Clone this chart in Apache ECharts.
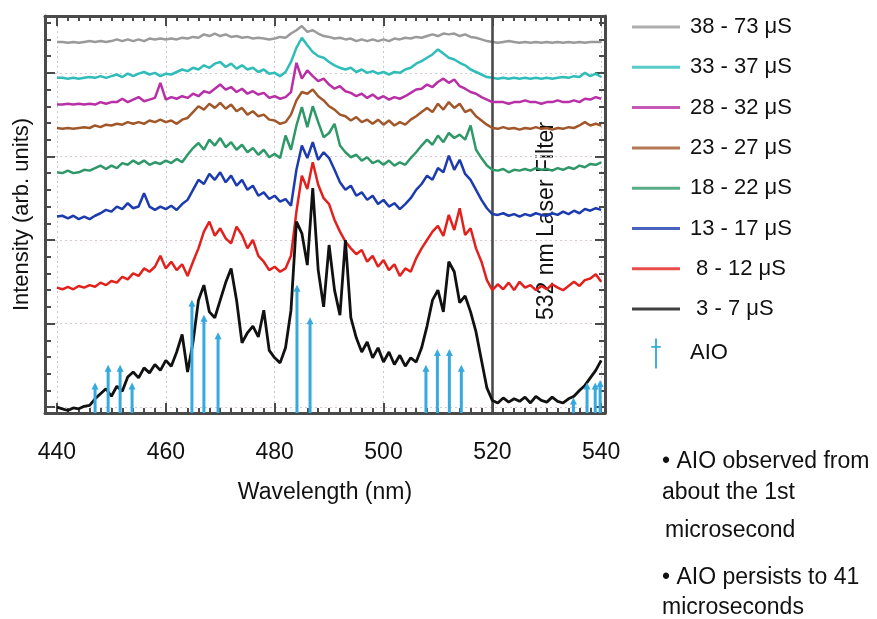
<!DOCTYPE html>
<html>
<head>
<meta charset="utf-8">
<script src="https://cdn.jsdelivr.net/npm/echarts@6/dist/echarts.min.js"></script>
<style>html,body{margin:0;padding:0;background:#fff}#c{width:877px;height:619px}</style>
</head>
<body>
<div id="c"></div>
<script>
// ---------- data ----------
const WAVELENGTH = [440,441,442,443,444,445,446,447,448,449,450,451,452,453,454,455,456,457,458,459,460,461,462,463,464,465,466,467,468,469,470,471,472,473,474,475,476,477,478,479,480,481,482,483,484,485,486,487,488,489,490,491,492,493,494,495,496,497,498,499,500,501,502,503,504,505,506,507,508,509,510,511,512,513,514,515,516,517,518,519,520,521,522,523,524,525,526,527,528,529,530,531,532,533,534,535,536,537,538,539,540];

const S_38_73 = [4.37,4.37,4.36,4.37,4.36,4.37,4.38,4.37,4.38,4.37,4.38,4.40,4.38,4.40,4.38,4.40,4.38,4.41,4.40,4.41,4.40,4.41,4.40,4.42,4.41,4.43,4.42,4.46,4.44,4.47,4.44,4.46,4.43,4.44,4.42,4.43,4.41,4.42,4.41,4.40,4.41,4.43,4.42,4.47,4.51,4.56,4.49,4.51,4.47,4.44,4.43,4.41,4.42,4.40,4.41,4.38,4.40,4.38,4.40,4.38,4.40,4.38,4.41,4.40,4.42,4.41,4.43,4.42,4.44,4.46,4.44,4.47,4.46,4.47,4.44,4.46,4.43,4.42,4.40,4.38,4.37,4.36,4.37,4.38,4.37,4.36,4.37,4.36,4.37,4.36,4.37,4.36,4.37,4.36,4.37,4.36,4.37,4.36,4.37,4.37,4.37];
const S_33_37 = [3.94,3.94,3.93,3.94,3.93,3.94,3.95,3.94,3.96,3.94,3.96,3.98,3.95,3.99,3.96,3.99,4.01,3.98,4.00,3.96,3.99,3.98,4.01,4.04,4.02,4.06,4.04,4.09,4.06,4.11,4.13,4.07,4.11,4.05,4.09,4.04,4.06,4.01,4.04,3.99,4.00,3.96,4.01,4.13,4.30,4.42,4.33,4.25,4.20,4.18,4.13,4.09,4.06,4.04,4.06,4.01,4.04,4.00,4.02,3.99,4.01,3.98,4.01,4.00,4.04,4.06,4.11,4.14,4.18,4.22,4.28,4.23,4.18,4.16,4.12,4.09,4.04,4.01,3.98,3.95,3.94,3.93,3.94,3.93,3.94,3.93,3.94,3.93,3.94,3.93,3.94,3.93,3.94,3.95,3.94,3.96,3.95,4.00,3.96,3.99,3.95];
const S_28_32 = [3.62,3.62,3.63,3.62,3.63,3.62,3.63,3.62,3.65,3.63,3.65,3.65,3.69,3.65,3.68,3.71,3.66,3.68,3.70,3.88,3.68,3.71,3.69,3.72,3.70,3.75,3.72,3.78,3.76,3.81,3.86,3.80,3.83,3.77,3.81,3.75,3.78,3.74,3.76,3.70,3.72,3.69,3.71,3.77,4.12,3.93,4.03,3.96,3.90,3.93,3.86,3.81,3.84,3.78,3.76,3.72,3.75,3.70,3.74,3.69,3.72,3.68,3.71,3.69,3.72,3.76,3.80,3.81,3.86,3.83,3.89,3.93,3.88,3.92,3.84,3.81,3.77,3.75,3.71,3.68,3.65,3.65,3.65,3.63,3.65,3.65,3.67,3.65,3.65,3.63,3.65,3.65,3.67,3.65,3.65,3.67,3.65,3.69,3.68,3.71,3.69];
const S_23_27 = [3.34,3.33,3.34,3.33,3.34,3.35,3.34,3.37,3.35,3.38,3.37,3.39,3.38,3.41,3.39,3.41,3.39,3.43,3.41,3.44,3.41,3.43,3.39,3.44,3.46,3.53,3.60,3.56,3.63,3.58,3.64,3.57,3.62,3.54,3.58,3.50,3.54,3.48,3.50,3.44,3.43,3.39,3.41,3.50,3.67,3.77,3.75,3.80,3.72,3.67,3.60,3.56,3.50,3.48,3.43,3.47,3.41,3.44,3.39,3.44,3.38,3.43,3.37,3.41,3.38,3.44,3.48,3.53,3.58,3.53,3.63,3.56,3.65,3.58,3.63,3.53,3.56,3.48,3.43,3.38,3.34,3.33,3.35,3.33,3.34,3.32,3.34,3.33,3.35,3.33,3.34,3.32,3.34,3.33,3.35,3.34,3.37,3.41,3.37,3.39,3.37];
const S_18_22 = [2.81,2.80,2.83,2.80,2.81,2.84,2.83,2.86,2.89,2.85,2.89,2.86,2.92,2.90,2.95,2.91,2.95,2.90,2.93,2.91,2.95,2.92,2.97,2.93,3.02,3.10,3.16,3.08,3.20,3.13,3.22,3.11,3.17,3.08,3.14,3.05,3.10,3.02,3.08,2.99,3.03,2.98,3.25,3.08,3.37,3.59,3.35,3.60,3.41,3.23,3.28,3.39,3.13,3.05,2.99,3.02,2.95,2.99,2.92,2.95,2.90,2.95,2.89,2.93,2.90,2.98,3.05,3.13,3.20,3.14,3.25,3.17,3.28,3.22,3.26,3.20,3.37,3.08,2.98,2.89,2.84,2.83,2.85,2.81,2.84,2.83,2.85,2.83,2.86,2.84,2.85,2.83,2.86,2.84,2.87,2.85,2.89,2.87,2.91,2.90,2.93];
const S_13_17 = [2.28,2.29,2.26,2.29,2.25,2.28,2.25,2.29,2.32,2.36,2.34,2.40,2.37,2.44,2.38,2.40,2.56,2.40,2.36,2.40,2.37,2.41,2.36,2.43,2.48,2.60,2.72,2.67,2.79,2.72,2.81,2.69,2.77,2.65,2.72,2.60,2.65,2.53,2.57,2.49,2.53,2.46,2.49,2.41,2.84,3.13,2.98,3.17,2.96,3.05,2.98,2.84,2.69,2.60,2.65,2.53,2.57,2.48,2.53,2.43,2.48,2.40,2.44,2.37,2.43,2.50,2.60,2.67,2.77,2.72,2.86,2.81,3.01,2.84,2.96,2.79,2.72,2.60,2.48,2.38,2.31,2.30,2.32,2.29,2.31,2.28,2.31,2.29,2.32,2.30,2.29,2.32,2.30,2.34,2.31,2.35,2.32,2.37,2.35,2.38,2.36];
const S_8_12 = [1.43,1.41,1.44,1.41,1.45,1.43,1.46,1.44,1.49,1.46,1.51,1.49,1.56,1.53,1.60,1.57,1.66,1.62,1.68,1.81,1.66,1.74,1.64,1.71,1.57,1.74,1.90,2.10,2.22,2.05,2.14,2.02,1.96,2.16,2.06,1.90,2.00,1.81,1.74,1.64,1.68,1.62,1.66,1.81,2.34,2.77,2.61,2.93,2.66,2.50,2.43,2.24,2.10,1.98,1.90,1.83,1.88,1.74,1.81,1.68,1.76,1.64,1.71,1.57,1.66,1.62,1.78,1.90,2.00,2.10,2.17,2.05,2.30,2.12,2.38,2.06,2.14,1.90,1.74,1.52,1.40,1.47,1.41,1.49,1.40,1.50,1.43,1.46,1.40,1.45,1.41,1.47,1.43,1.40,1.45,1.50,1.45,1.52,1.54,1.59,1.50];
const S_3_7 = [0.00,-0.02,-0.04,-0.01,-0.02,0.01,0.02,0.10,0.16,0.22,0.13,0.25,0.19,0.36,0.42,0.35,0.47,0.41,0.51,0.44,0.56,0.49,0.66,0.87,0.42,0.78,1.28,1.46,1.14,1.07,1.28,1.49,1.66,1.28,0.77,0.89,0.97,0.84,1.16,0.68,0.59,0.53,0.71,1.16,2.22,2.08,1.70,2.62,1.64,1.20,1.94,1.40,1.10,2.00,1.07,0.83,0.66,0.78,0.59,0.71,0.54,0.66,0.51,0.62,0.49,0.59,0.54,0.71,0.97,1.28,1.40,1.14,1.74,1.62,1.25,1.33,1.14,0.90,0.56,0.23,0.08,0.05,0.11,0.06,0.10,0.07,0.12,0.05,0.13,0.08,0.06,0.12,0.07,0.05,0.10,0.13,0.20,0.26,0.35,0.44,0.56];

// AlO band positions (nm) and marker heights
const AIO_NM = [447.0,449.4,451.6,453.8,464.8,467.0,469.6,484.1,486.5,507.8,509.9,512.1,514.3,534.9,537.4,538.9,539.8];
const AIO_H  = [0.26,0.47,0.47,0.26,1.25,1.07,0.86,1.43,1.04,0.47,0.66,0.66,0.47,0.08,0.26,0.26,0.29];

const SERIES_NAMES = ['38 - 73 μS','33 - 37 μS','28 - 32 μS','23 - 27 μS','18 - 22 μS','13 - 17 μS',' 8 - 12 μS',' 3 - 7 μS'];
const SERIES_VALUES = [S_38_73,S_33_37,S_28_32,S_23_27,S_18_22,S_13_17,S_8_12,S_3_7];
const SERIES_COLORS = ['#9a9a9a','#2ebdb9','#b82fa6','#a2572a','#2f9868','#1c3bae','#e3201c','#111111'];

const X_TICKS = [440,460,480,500,520,540];
const X_MINOR = [438,440,442,444,446,448,450,452,454,456,458,460,462,464,466,468,470,472,474,476,478,480,482,484,486,488,490,492,494,496,498,500,502,504,506,508,510,512,514,516,518,520,522,524,526,528,530,532,534,536,538,540];
const Y_TICKS = [0,1,2,3,4];
const Y_MINOR = [0,0.2,0.4,0.6,0.8,1,1.2,1.4,1.6,1.8,2,2.2,2.4,2.6,2.8,3,3.2,3.4,3.6,3.8,4,4.2,4.4,4.6];
const FILTER_NM = 520;

// ---------- chart ----------
const XMIN = 437.8, XMAX = 540.7, YMIN = -0.07, YMAX = 4.68;
const FONT = 'Liberation Sans, Arial, sans-serif';
const FRAME = '#4a4a4a';
const AIO_COLOR = '#36a9de';
const chart = echarts.init(document.getElementById('c'), null, {renderer: 'canvas'});

function xAx(pos, ticks, len, main) {
  return {
    type: 'value', position: pos, min: XMIN, max: XMAX, gridIndex: 0,
    axisLine: {show: main, onZero: false, lineStyle: {color: FRAME, width: 3}},
    axisTick: {show: true, inside: true, length: len, customValues: ticks, lineStyle: {color: FRAME, width: 2}},
    axisLabel: (main && pos === 'bottom') ? {show: true, customValues: X_TICKS, fontSize: 23, color: '#111', fontFamily: FONT, margin: 28} : {show: false},
    splitLine: (main && pos === 'bottom') ? {show: true, lineStyle: {color: '#c9c6d6', type: [2, 3], width: 1}} : {show: false},
    name: (main && pos === 'bottom') ? 'Wavelength (nm)' : '',
    nameLocation: 'middle', nameGap: 68,
    nameTextStyle: {fontSize: 23, color: '#111', fontFamily: FONT}
  };
}
function yAx(pos, ticks, len, main) {
  return {
    type: 'value', position: pos, min: YMIN, max: YMAX, gridIndex: 0,
    axisLine: {show: main, onZero: false, lineStyle: {color: FRAME, width: 3}},
    axisTick: {show: true, inside: true, length: len, customValues: ticks, lineStyle: {color: FRAME, width: 2}},
    axisLabel: {show: false},
    splitLine: (main && pos === 'left') ? {show: true, lineStyle: {color: '#d6c9d2', type: [2, 3], width: 1}} : {show: false},
    name: (main && pos === 'left') ? 'Intensity (arb. units)' : '',
    nameLocation: 'middle', nameGap: 12,
    nameTextStyle: {fontSize: 22, color: '#111', fontFamily: FONT}
  };
}

const lineSeries = SERIES_NAMES.map((n, i) => ({
  type: 'line', name: n, xAxisIndex: 0, yAxisIndex: 0,
  data: WAVELENGTH.map((w, j) => [w, SERIES_VALUES[i][j]]),
  showSymbol: false, symbol: 'none',
  color: SERIES_COLORS[i],
  lineStyle: {color: SERIES_COLORS[i], width: i === 7 ? 2.8 : 2.5},
  z: 3 + i,
  markLine: i === 7 ? {
    silent: true, symbol: 'none', label: {show: false},
    lineStyle: {color: FRAME, type: 'solid', width: 2.6},
    data: [{xAxis: FILTER_NM}]
  } : undefined
}));

const aioSeries = {
  type: 'custom', name: 'AIO', xAxisIndex: 0, yAxisIndex: 0, z: 20,
  color: AIO_COLOR, itemStyle: {color: AIO_COLOR},
  data: AIO_NM.map((w, i) => [w, AIO_H[i]]),
  encode: {x: 0, y: 1},
  renderItem: function (params, api) {
    const x = api.value(0), h = api.value(1);
    const p1 = api.coord([x, YMIN]);
    const p2 = api.coord([x, h]);
    return {
      type: 'group',
      children: [
        {type: 'line', shape: {x1: p1[0], y1: p1[1], x2: p2[0], y2: p2[1] + 2}, style: {stroke: AIO_COLOR, lineWidth: 3}},
        {type: 'polygon', shape: {points: [[p2[0], p2[1] - 3], [p2[0] - 3.5, p2[1] + 4], [p2[0] + 3.5, p2[1] + 4]]}, style: {fill: AIO_COLOR}}
      ]
    };
  }
};

const LINE_ICON = 'path://M0,0h48v3h-48z';
const DAGGER_ICON = 'path://M4,0L6,0L6,8L10,8L10,10L6,10L6,32L4,32L4,10L0,10L0,8L4,8Z';

chart.setOption({
  animation: false,
  backgroundColor: '#ffffff',
  grid: {left: 45, right: 272, top: 16, bottom: 206, containLabel: false},
  xAxis: [xAx('bottom', X_TICKS, 10, true), xAx('bottom', X_MINOR, 5, false), xAx('top', X_TICKS, 10, true), xAx('top', X_MINOR, 5, false)],
  yAxis: [yAx('left', Y_TICKS, 10, true), yAx('left', Y_MINOR, 6, false), yAx('right', Y_TICKS, 10, true), yAx('right', Y_MINOR, 6, false)],
  legend: {
    orient: 'vertical', left: 627, top: 11,
    itemWidth: 48, itemHeight: 30, itemGap: 18.3,
    selectedMode: false,
    textStyle: {fontSize: 22, color: '#111', fontFamily: FONT, padding: [0, 0, 0, 5]},
    data: SERIES_NAMES.map(n => ({name: n, icon: LINE_ICON, itemStyle: {opacity: 0.8}})).concat([{name: 'AIO', icon: DAGGER_ICON}])
  },
  graphic: [
    {type: 'text', x: 547, y: 221, rotation: Math.PI / 2,
     style: {text: '532 nm Laser Filter', fontSize: 23, fontFamily: FONT, fill: '#111', align: 'center', verticalAlign: 'middle'}},
    {type: 'text', left: 662, top: 450, style: {text: '• AIO observed from', fontSize: 23, fontFamily: FONT, fill: '#111'}},
    {type: 'text', left: 662, top: 481, style: {text: 'about the 1st', fontSize: 23, fontFamily: FONT, fill: '#111'}},
    {type: 'text', left: 665, top: 519, style: {text: 'microsecond', fontSize: 23, fontFamily: FONT, fill: '#111'}},
    {type: 'text', left: 662, top: 566, style: {text: '• AIO persists to 41', fontSize: 23, fontFamily: FONT, fill: '#111'}},
    {type: 'text', left: 662, top: 596, style: {text: 'microseconds', fontSize: 23, fontFamily: FONT, fill: '#111'}}
  ],
  series: lineSeries.concat([aioSeries])
});
</script>
</body>
</html>
